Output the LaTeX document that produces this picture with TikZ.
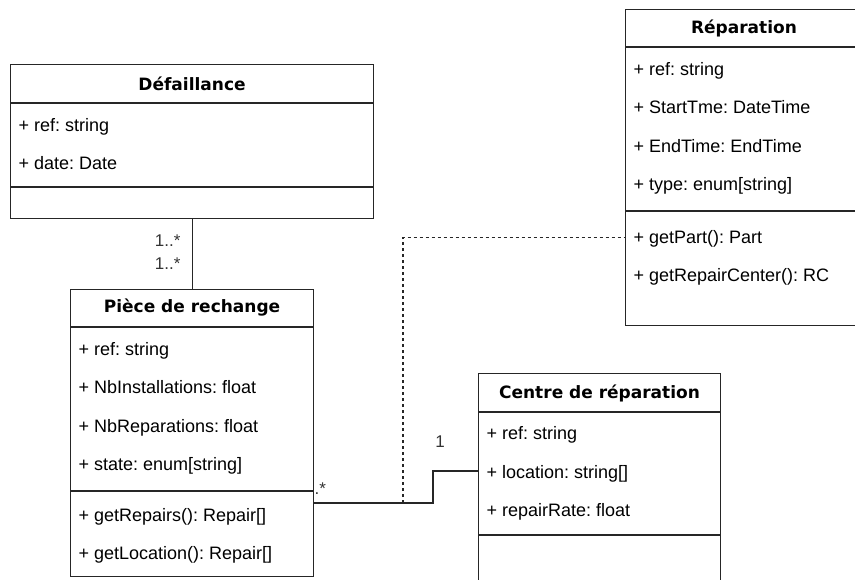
\documentclass[tikz,border=0pt]{standalone}
\usepackage{fontspec}
\setmainfont{Liberation Sans}
\newfontfamily\titlefam{DejaVu Sans}
\usetikzlibrary{positioning}
\frenchspacing

\begin{document}
\begin{tikzpicture}[x=1pt, y=-1pt, line width=1.1pt, draw=black!85,
  classbox/.style={draw, inner sep=0pt, anchor=north west},
  title/.style={font=\titlefam\bfseries\fontsize{17}{20}\selectfont},
  attr/.style={font=\frenchspacing\fontsize{18}{22}\selectfont, anchor=base west, inner sep=0pt},
  mult/.style={font=\fontsize{17}{20}\selectfont, inner sep=0pt, text=black!80},
  dep/.style={dash pattern=on 3.5pt off 2.5pt}]

\useasboundingbox (0,0) rectangle (855,579);
\clip (0,0) rectangle (855,579);

% class boxes
\node[classbox, minimum width=363pt, minimum height=154pt] (defaillance) at (10,64) {};
\node[classbox, minimum width=243pt, minimum height=287pt] (piece) at (70,289) {};
\node[classbox, minimum width=260pt, minimum height=316pt] (reparation) at (625,9) {};
\node[classbox, minimum width=242pt, minimum height=240pt] (centre) at (478,373) {};

% compartments
\draw (defaillance.west |- 0,103) -- (defaillance.east |- 0,103)
      (defaillance.west |- 0,187) -- (defaillance.east |- 0,187);
\draw (piece.west |- 0,327) -- (piece.east |- 0,327)
      (piece.west |- 0,491) -- (piece.east |- 0,491);
\draw (reparation.west |- 0,47) -- (reparation.east |- 0,47)
      (reparation.west |- 0,211) -- (reparation.east |- 0,211);
\draw (centre.west |- 0,412) -- (centre.east |- 0,412)
      (centre.west |- 0,535) -- (centre.east |- 0,535);

% titles
\node[title] (defaillance-title) at (defaillance.north |- 0,84) {Défaillance};
\node[title] (piece-title) at (piece.north |- 0,308) {Pièce de rechange};
\node[title] (reparation-title) at (744,28) {Réparation};
\node[title] (centre-title) at (centre.north |- 0,393) {Centre de réparation};

% attributes and methods
\foreach \a [count=\i] in {ref: string, date: Date}
  \node[attr] (defaillance-\i) at (18, 93+\i*38) {+ \a};

\foreach \a [count=\i] in {ref: string, NbInstallations: float,
    NbReparations: float, state: enum[string]}
  \node[attr] (piece-\i) at (78, 316.5+\i*38.5) {+ \a};

\foreach \a [count=\i] in {getRepairs(): Repair[], getLocation(): Repair[]}
  \node[attr] (piece-m\i) at (78, 483+\i*38) {+ \a};

\foreach \a [count=\i] in {ref: string, StartTme: DateTime,
    EndTime: EndTime, type: enum[string]}
  \node[attr] (reparation-\i) at (633, 36.5+\i*38.5) {+ \a};

\foreach \a [count=\i] in {getPart(): Part, getRepairCenter(): RC}
  \node[attr] (reparation-m\i) at (633, 205+\i*38) {+ \a};

\foreach \a [count=\i] in {ref: string, location: string[], repairRate: float}
  \node[attr] (centre-\i) at (486, 401+\i*38.5) {+ \a};

% associations
\draw (defaillance.south) -- (piece.north);
\node[mult, anchor=east] (mult-d1) at (181,241) {1..*};
\node[mult, anchor=east] (mult-d2) at (181,264) {1..*};

\coordinate (bend) at (433,503);
\coordinate (dep-foot) at (403,503);
\draw (piece.east |- bend) -- (bend) |- (centre.west |- 0,471);
\node[mult, anchor=west] (mult-p) at (314,489) {.*};
\node[mult] (mult-c) at (440,442) {1};

\draw[dep] (dep-foot) |- (reparation.west |- 0,237.5);

\end{tikzpicture}
\end{document}
